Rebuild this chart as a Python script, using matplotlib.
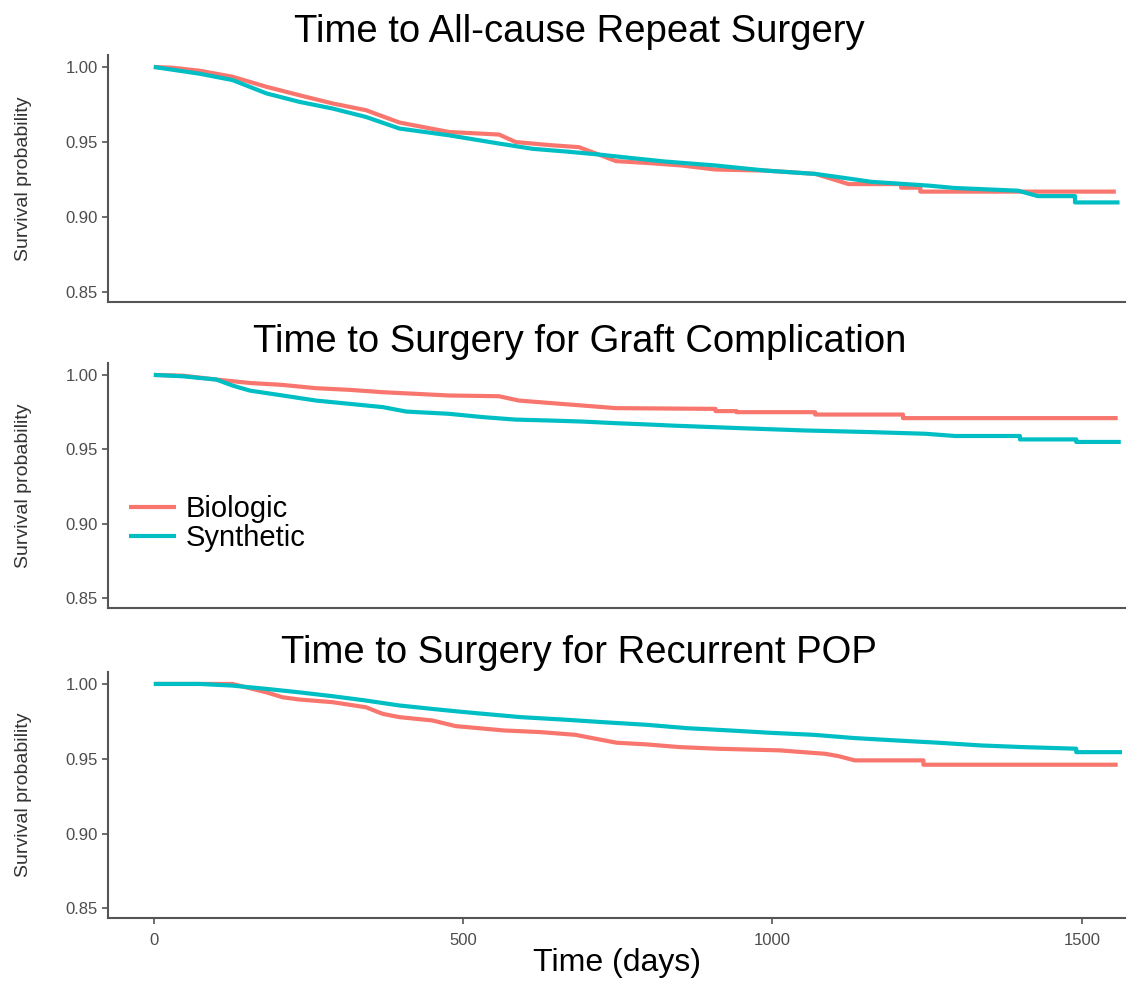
import matplotlib
matplotlib.use('Agg')
import matplotlib.pyplot as plt

plt.rcParams['font.family'] = ['Liberation Sans', 'DejaVu Sans']

titles = ['Time to All-cause Repeat Surgery',
          'Time to Surgery for Graft Complication',
          'Time to Surgery for Recurrent POP']
groups = ['Biologic', 'Synthetic']
colors = ['#F8766D', '#00BFC4']

# panel 1: all-cause repeat surgery
days_bio_1 = [0, 30, 74, 127, 182, 235, 289, 343, 397, 477, 558, 585, 639, 687, 719, 747,
              800, 853, 908, 989, 1069, 1101, 1123, 1208, 1208, 1239, 1239, 1555]
surv_bio_1 = [1.0, 0.9995, 0.9975, 0.9935, 0.9868, 0.9812, 0.9757, 0.9712, 0.9630, 0.9567,
              0.9550, 0.9500, 0.9480, 0.9466, 0.9417, 0.9373, 0.9360, 0.9344, 0.9317, 0.9310,
              0.9288, 0.9248, 0.9220, 0.9220, 0.9196, 0.9196, 0.9170, 0.9170]
days_syn_1 = [0, 74, 127, 182, 235, 289, 343, 397, 477, 558, 612, 666, 719, 773, 827, 908,
              989, 1069, 1118, 1160, 1252, 1295, 1397, 1397, 1429, 1489, 1489, 1561]
surv_syn_1 = [1.0, 0.9955, 0.9913, 0.9824, 0.9768, 0.9723, 0.9667, 0.9590, 0.9545, 0.9490,
              0.9455, 0.9437, 0.9417, 0.9393, 0.9370, 0.9344, 0.9310, 0.9288, 0.9260, 0.9235,
              0.9210, 0.9194, 0.9176, 0.9176, 0.9140, 0.9140, 0.9098, 0.9098]

# panel 2: graft complication
days_bio_2 = [0, 47, 101, 155, 208, 262, 316, 370, 424, 477, 558, 590, 639, 747, 908, 908,
              942, 942, 1069, 1069, 1211, 1211, 1558]
surv_bio_2 = [1.0, 0.9995, 0.9969, 0.9946, 0.9933, 0.9911, 0.9900, 0.9884, 0.9873, 0.9862,
              0.9857, 0.9828, 0.9812, 0.9777, 0.9772, 0.9757, 0.9757, 0.9750, 0.9750, 0.9734,
              0.9734, 0.9710, 0.9710]
days_syn_2 = [0, 47, 101, 127, 155, 208, 262, 316, 370, 408, 477, 531, 585, 639, 692, 747,
              800, 837, 945, 1053, 1160, 1247, 1295, 1400, 1400, 1491, 1491, 1563]
surv_syn_2 = [1.0, 0.9991, 0.9969, 0.9929, 0.9895, 0.9862, 0.9828, 0.9806, 0.9784, 0.9754,
              0.9739, 0.9717, 0.9700, 0.9694, 0.9687, 0.9676, 0.9667, 0.9660, 0.9643, 0.9627,
              0.9616, 0.9605, 0.9590, 0.9590, 0.9567, 0.9567, 0.9550, 0.9550]

# panel 3: recurrent POP
days_bio_3 = [0, 127, 182, 208, 235, 289, 343, 370, 397, 450, 488, 526, 566, 625, 681, 715,
              748, 796, 849, 910, 1011, 1085, 1106, 1133, 1244, 1244, 1558]
surv_bio_3 = [1.0, 1.0, 0.9944, 0.9911, 0.9896, 0.9878, 0.9844, 0.9800, 0.9778, 0.9756,
              0.9718, 0.9704, 0.9689, 0.9678, 0.9660, 0.9633, 0.9607, 0.9596, 0.9578, 0.9567,
              0.9556, 0.9533, 0.9518, 0.9489, 0.9489, 0.9460, 0.9460]
days_syn_3 = [0, 74, 127, 182, 235, 289, 343, 397, 450, 504, 593, 661, 728, 796, 863, 931,
              998, 1066, 1133, 1201, 1268, 1336, 1403, 1491, 1491, 1565]
surv_syn_3 = [1.0, 1.0, 0.9989, 0.9967, 0.9944, 0.9918, 0.9889, 0.9856, 0.9833, 0.9811,
              0.9778, 0.9762, 0.9744, 0.9727, 0.9704, 0.9689, 0.9673, 0.9660, 0.9638, 0.9622,
              0.9607, 0.9589, 0.9578, 0.9567, 0.9544, 0.9544]

panels = [
    [(days_bio_1, surv_bio_1), (days_syn_1, surv_syn_1)],
    [(days_bio_2, surv_bio_2), (days_syn_2, surv_syn_2)],
    [(days_bio_3, surv_bio_3), (days_syn_3, surv_syn_3)],
]

y_ticks = [0.85, 0.90, 0.95, 1.00]
x_ticks = [0, 500, 1000, 1500]

fig = plt.figure(figsize=(11.36, 9.83), dpi=100)
boxes = [[0.0951, 0.6928, 0.8953, 0.2513],
         [0.0951, 0.3815, 0.8953, 0.2492],
         [0.0951, 0.0661, 0.8953, 0.2503]]
title_y = [0.967, 0.652, 0.336]

axes = []
for i, box in enumerate(boxes):
    ax = fig.add_axes(box)
    for (d, s), c, g in zip(panels[i], colors, groups):
        ax.plot(d, s, color=c, lw=3, label=g, solid_capstyle='butt')
    ax.set_xlim(-74, 1570)
    ax.set_ylim(0.8435, 1.008)
    ax.set_yticks(y_ticks)
    ax.set_yticklabels(['%.2f' % v for v in y_ticks])
    ax.set_ylabel('Survival probability', fontsize=14, color='#333333', labelpad=24)
    for side in ['top', 'right']:
        ax.spines[side].set_visible(False)
    for side in ['left', 'bottom']:
        ax.spines[side].set_color('#555555')
        ax.spines[side].set_linewidth(1.5)
    ax.tick_params(axis='y', labelsize=12, colors='#555555', labelcolor='#4d4d4d',
                   length=4, width=1.2)
    if i < 2:
        ax.set_xticks([])
    else:
        ax.set_xticks(x_ticks)
        ax.tick_params(axis='x', labelsize=12, colors='#555555', labelcolor='#4d4d4d',
                       length=4, width=1.2, pad=7)
        ax.set_xlabel('Time (days)', fontsize=23, labelpad=0)
    fig.text(0.51, title_y[i], titles[i], fontsize=27.5, ha='center', va='center')
    axes.append(ax)

axes[1].legend(loc='center left', bbox_to_anchor=(0.012, 0.345), frameon=False,
               fontsize=21, handlelength=1.6, handletextpad=0.35, labelspacing=0.05,
               borderpad=0.3, borderaxespad=0)

fig.savefig('out.png', dpi=100)
